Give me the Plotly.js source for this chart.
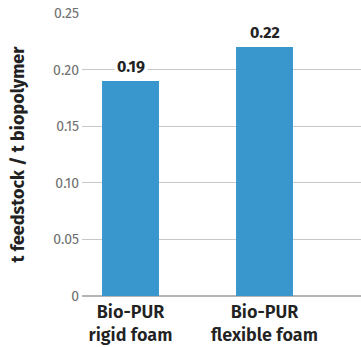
<!DOCTYPE html>
<html><head><meta charset="utf-8">
<script src="https://cdn.plot.ly/plotly-3.0.1.min.js"></script>
<style>body{margin:0;background:#fff}#c{width:361px;height:347px}</style>
</head><body><div id="c"></div>
<script>
const categories = ["Bio-PUR<br>rigid foam", "Bio-PUR<br>flexible foam"];
const values = [0.19, 0.22];
const valueLabels = ["0.19", "0.22"];
const yTicks = [0, 0.05, 0.10, 0.15, 0.20, 0.25];
const yTickText = ["0", "0.05", "0.10", "0.15", "0.20", "0.25"];

const xIdx = categories.map((_, i) => i);
const font = "Fira Sans, Lato, Open Sans, sans-serif";

Plotly.newPlot("c", [{
  type: "bar", x: xIdx, y: values, width: 0.425,
  marker: {color: "#3a97cd"}, hoverinfo: "none"
}], {
  width: 361, height: 347,
  margin: {l: 82, r: 0, t: 13, b: 51},
  paper_bgcolor: "#fff", plot_bgcolor: "#fff",
  showlegend: false,
  font: {family: font},
  xaxis: {
    range: [-0.362, 1.72], tickvals: xIdx, ticktext: categories,
    showgrid: false, zeroline: false, showline: false, ticks: "",
    ticklabelstandoff: 3,
    tickfont: {size: 18, color: "#222", weight: 600}
  },
  yaxis: {
    range: [0, 0.25], tickvals: yTicks, ticktext: yTickText,
    showgrid: true, gridcolor: "#c8c8c8", gridwidth: 1,
    zeroline: true, zerolinecolor: "#b4b4b4", zerolinewidth: 1.5,
    ticks: "", ticklabelstandoff: 2,
    tickfont: {size: 14, color: "#707070"},
    title: {text: "t feedstock / t biopolymer", font: {size: 18, color: "#222", weight: 700}, standoff: 23}
  },
  annotations: xIdx.map(i => ({
    x: i, y: values[i], text: valueLabels[i], showarrow: false,
    yanchor: "bottom", yshift: 2, bgcolor: "#fff", borderpad: 2,
    font: {size: 16, color: "#222", weight: 700}
  }))
}, {staticPlot: true});
</script></body></html>
